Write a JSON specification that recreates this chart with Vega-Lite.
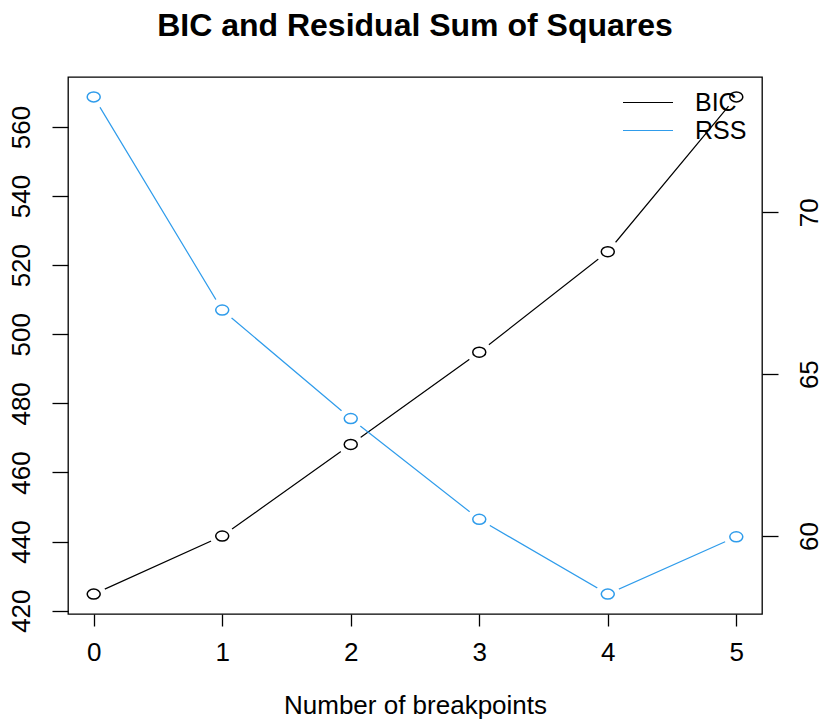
{
  "$schema": "https://vega.github.io/schema/vega-lite/v6.json",
  "width": 694,
  "height": 537,
  "autosize": {"type": "none"},
  "padding": {"left": 68, "top": 77, "right": 65, "bottom": 106},
  "background": "white",
  "title": {
    "text": "BIC and Residual Sum of Squares",
    "font": "Liberation Sans",
    "fontSize": 32,
    "fontWeight": "bold",
    "color": "black",
    "anchor": "middle",
    "baseline": "bottom",
    "offset": 32,
    "dy": 30
  },
  "config": {
    "view": {"stroke": "black", "strokeWidth": 1.3},
    "axis": {
      "labelFont": "Liberation Sans",
      "titleFont": "Liberation Sans",
      "labelColor": "black",
      "titleColor": "black",
      "tickColor": "black",
      "tickWidth": 1.3,
      "domain": false,
      "grid": false,
      "labelFontSize": 26,
      "titleFontSize": 26,
      "titleFontWeight": "normal"
    }
  },
  "data": {
    "values": [
      {"breakpoints": 0, "series": "BIC", "value": 424.8},
      {"breakpoints": 1, "series": "BIC", "value": 441.6},
      {"breakpoints": 2, "series": "BIC", "value": 468.1},
      {"breakpoints": 3, "series": "BIC", "value": 494.8},
      {"breakpoints": 4, "series": "BIC", "value": 523.9},
      {"breakpoints": 5, "series": "BIC", "value": 568.7},
      {"breakpoints": 0, "series": "RSS", "value": 73.56},
      {"breakpoints": 1, "series": "RSS", "value": 66.98},
      {"breakpoints": 2, "series": "RSS", "value": 63.63},
      {"breakpoints": 3, "series": "RSS", "value": 60.52},
      {"breakpoints": 4, "series": "RSS", "value": 58.21},
      {"breakpoints": 5, "series": "RSS", "value": 59.98}
    ]
  },
  "encoding": {
    "x": {
      "field": "breakpoints",
      "type": "quantitative",
      "scale": {"domain": [-0.2, 5.2], "nice": false, "zero": false},
      "axis": {
        "values": [0, 1, 2, 3, 4, 5],
        "tickSize": 12,
        "labelPadding": 13,
        "title": "Number of breakpoints",
        "titlePadding": 27
      }
    }
  },
  "layer": [
    {
      "transform": [{"filter": "datum.series === 'BIC'"}],
      "encoding": {
        "y": {
          "field": "value",
          "type": "quantitative",
          "scale": {"domain": [419.04, 574.46], "nice": false, "zero": false},
          "axis": {
            "orient": "left",
            "values": [420, 440, 460, 480, 500, 520, 540, 560],
            "tickSize": 16,
            "labelAngle": -90,
            "labelAlign": "center",
            "labelBaseline": "bottom",
            "labelPadding": 18,
            "title": null
          }
        }
      },
      "layer": [
        {
          "mark": {"type": "line", "strokeWidth": 1.2},
          "encoding": {
            "color": {
              "field": "series",
              "type": "nominal",
              "scale": {"domain": ["BIC", "RSS"], "range": ["black", "#2f9ceb"]},
              "legend": {
                "orient": "none",
                "legendX": 554,
                "legendY": 13,
                "title": null,
                "symbolType": "stroke",
                "symbolSize": 2500,
                "symbolStrokeWidth": 1.2,
                "labelFont": "Liberation Sans",
                "labelFontSize": 25,
                "labelColor": "black",
                "labelOffset": 21,
                "clipHeight": 25,
                "rowPadding": 2
              }
            }
          }
        },
        {"mark": {"type": "point", "shape": "circle", "filled": true, "color": "white", "opacity": 1, "size": 600}},
        {"mark": {"type": "point", "shape": "M -1 0 A 1 0.77 0 1 0 1 0 A 1 0.77 0 1 0 -1 0 Z", "filled": false, "color": "black", "strokeWidth": 1.5, "opacity": 1, "size": 169}}
      ]
    },
    {
      "transform": [{"filter": "datum.series === 'RSS'"}],
      "encoding": {
        "y": {
          "field": "value",
          "type": "quantitative",
          "scale": {"domain": [57.596, 74.174], "nice": false, "zero": false},
          "axis": {
            "orient": "right",
            "values": [60, 65, 70],
            "tickSize": 16,
            "labelAngle": -90,
            "labelAlign": "center",
            "labelBaseline": "top",
            "labelPadding": 18,
            "title": null
          }
        }
      },
      "layer": [
        {
          "mark": {"type": "line", "strokeWidth": 1.2},
          "encoding": {"color": {"field": "series", "type": "nominal"}}
        },
        {"mark": {"type": "point", "shape": "circle", "filled": true, "color": "white", "opacity": 1, "size": 600}},
        {"mark": {"type": "point", "shape": "M -1 0 A 1 0.77 0 1 0 1 0 A 1 0.77 0 1 0 -1 0 Z", "filled": false, "color": "#2f9ceb", "strokeWidth": 1.5, "opacity": 1, "size": 169}}
      ]
    }
  ],
  "resolve": {"scale": {"y": "independent"}}
}
